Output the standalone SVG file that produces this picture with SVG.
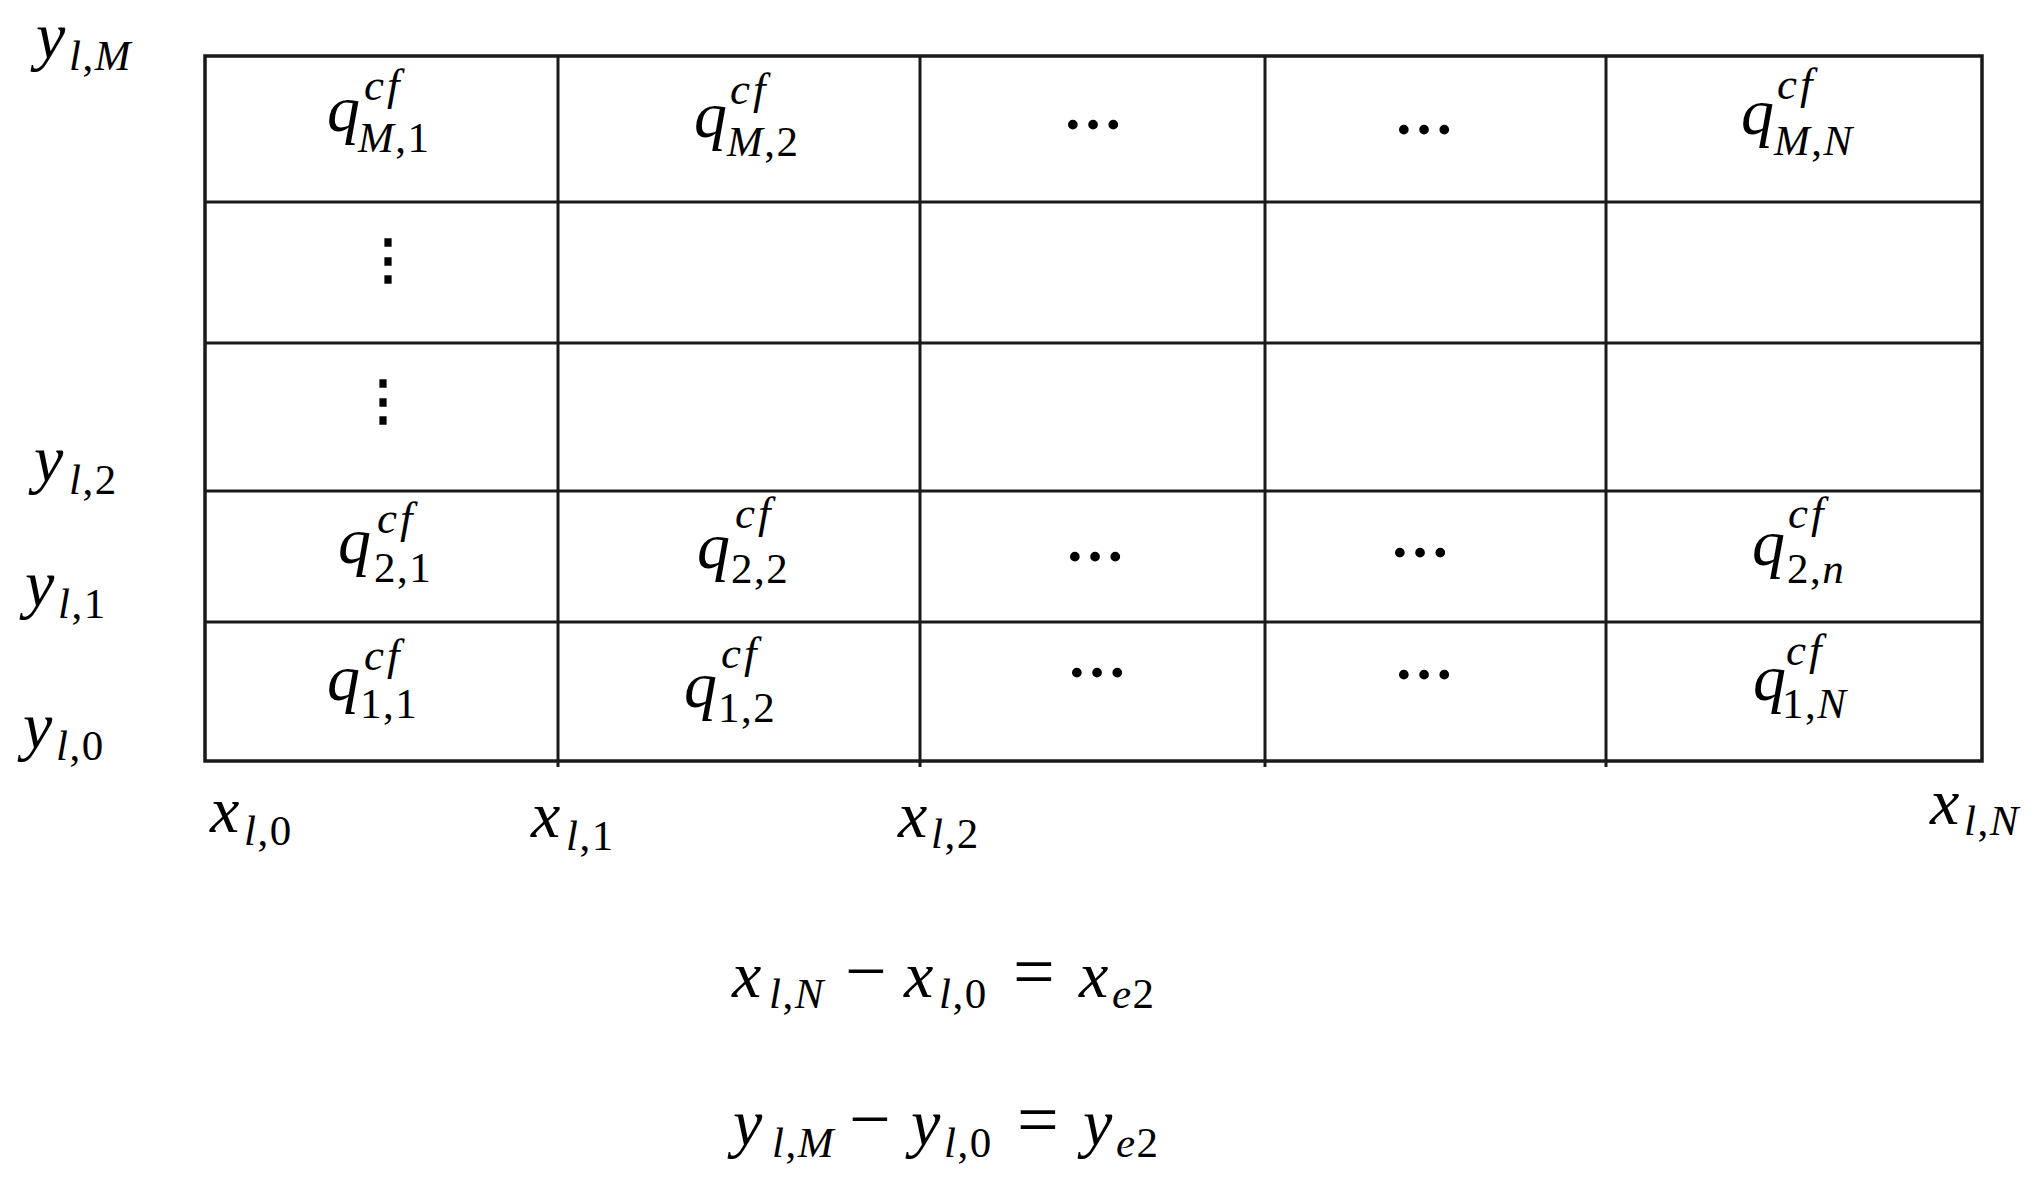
<svg xmlns="http://www.w3.org/2000/svg" width="2044" height="1184" viewBox="0 0 2044 1184">
<style>
.t{font-family:"Liberation Serif","DejaVu Serif",serif;fill:#000}
.i{font-style:italic}
.b{font-size:66px}
.s{font-size:43px;letter-spacing:1.5px}
.p{font-size:45px;letter-spacing:3px}
.o{font-size:74px}
.d{font-family:"Liberation Serif","DejaVu Serif",serif;font-size:60px;font-weight:bold;fill:#000;text-anchor:middle}
.v{font-family:"DejaVu Serif",serif;font-size:54px;font-weight:bold;fill:#000;text-anchor:middle}
.ln{stroke:#1a1a1a;stroke-width:3;fill:none}
</style>
<rect width="2044" height="1184" fill="#fff"/>
<g id="grid">
<rect class="ln" x="205" y="56" width="1777" height="705" style="stroke-width:3.5"/>
<path class="ln" d="M205 202H1982M205 343H1982M205 491H1982M205 622H1982"/>
<path class="ln" d="M558 56V767M920 56V767M1265 56V767M1606 56V767"/>
</g>
<g id="y-labels">
<g id="y_lM"><text class="t"><tspan class="b i" x="36" y="58">y</tspan><tspan class="s i" x="69" y="70">l</tspan><tspan class="s">,</tspan><tspan class="s i">M</tspan></text></g>
<g id="y_l2"><text class="t"><tspan class="b i" x="34" y="481">y</tspan><tspan class="s i" x="69" y="494">l</tspan><tspan class="s">,2</tspan></text></g>
<g id="y_l1"><text class="t"><tspan class="b i" x="25" y="606">y</tspan><tspan class="s i" x="58" y="618">l</tspan><tspan class="s">,1</tspan></text></g>
<g id="y_l0"><text class="t"><tspan class="b i" x="23" y="748">y</tspan><tspan class="s i" x="56" y="760">l</tspan><tspan class="s">,0</tspan></text></g>
</g>
<g id="x-labels">
<g id="x_l0"><text class="t"><tspan class="b i" x="210" y="832">x</tspan><tspan class="s i" x="244" y="845">l</tspan><tspan class="s">,0</tspan></text></g>
<g id="x_l1"><text class="t"><tspan class="b i" x="531" y="837">x</tspan><tspan class="s i" x="566" y="850">l</tspan><tspan class="s">,1</tspan></text></g>
<g id="x_l2"><text class="t"><tspan class="b i" x="898" y="837">x</tspan><tspan class="s i" x="931" y="848">l</tspan><tspan class="s">,2</tspan></text></g>
<g id="x_lN"><text class="t"><tspan class="b i" x="1930" y="824">x</tspan><tspan class="s i" x="1964" y="835">l</tspan><tspan class="s">,</tspan><tspan class="s i">N</tspan></text></g>
</g>
<g id="cells">
<g id="q_M1"><text class="t"><tspan class="b i" x="327" y="131">q</tspan><tspan class="p i" x="364" y="100">cf</tspan><tspan class="s i" x="358" y="152">M</tspan><tspan class="s">,1</tspan></text></g>
<g id="q_M2"><text class="t"><tspan class="b i" x="694" y="137">q</tspan><tspan class="p i" x="730" y="104">cf</tspan><tspan class="s i" x="727" y="156">M</tspan><tspan class="s">,2</tspan></text></g>
<g id="dots_M3"><text class="d" x="1093" y="129">…</text></g>
<g id="dots_M4"><text class="d" x="1424" y="134">…</text></g>
<g id="q_MN"><text class="t"><tspan class="b i" x="1741" y="134">q</tspan><tspan class="p i" x="1777" y="99">cf</tspan><tspan class="s i" x="1774" y="155">M</tspan><tspan class="s">,</tspan><tspan class="s i">N</tspan></text></g>
<g id="vdots_1"><text class="v" x="388" y="278">⋮</text></g>
<g id="vdots_2"><text class="v" x="383" y="419">⋮</text></g>
<g id="q_21"><text class="t"><tspan class="b i" x="338" y="563">q</tspan><tspan class="p i" x="377" y="533">cf</tspan><tspan class="s" x="374" y="582">2,1</tspan></text></g>
<g id="q_22"><text class="t"><tspan class="b i" x="697" y="568">q</tspan><tspan class="p i" x="735" y="528">cf</tspan><tspan class="s" x="731" y="583">2,2</tspan></text></g>
<g id="dots_23"><text class="d" x="1095" y="561">…</text></g>
<g id="dots_24"><text class="d" x="1420" y="557">…</text></g>
<g id="q_2n"><text class="t"><tspan class="b i" x="1752" y="565">q</tspan><tspan class="p i" x="1788" y="528">cf</tspan><tspan class="s" x="1787" y="583">2,</tspan><tspan class="s i">n</tspan></text></g>
<g id="q_11"><text class="t"><tspan class="b i" x="327" y="700">q</tspan><tspan class="p i" x="364" y="670">cf</tspan><tspan class="s" x="360" y="718">1,1</tspan></text></g>
<g id="q_12"><text class="t"><tspan class="b i" x="684" y="707">q</tspan><tspan class="p i" x="721" y="668">cf</tspan><tspan class="s" x="718" y="722">1,2</tspan></text></g>
<g id="dots_13"><text class="d" x="1097" y="677">…</text></g>
<g id="dots_14"><text class="d" x="1424" y="679">…</text></g>
<g id="q_1N"><text class="t"><tspan class="b i" x="1753" y="700">q</tspan><tspan class="p i" x="1786" y="665">cf</tspan><tspan class="s" x="1782" y="718">1,</tspan><tspan class="s i">N</tspan></text></g>
</g>
<g id="equations">
<g id="eq_x"><text class="t"><tspan class="b i" x="732" y="997">x</tspan><tspan class="s i" x="769" y="1008">l</tspan><tspan class="s">,</tspan><tspan class="s i">N</tspan><tspan class="o" x="845" y="996">−</tspan><tspan class="b i" x="904" y="997">x</tspan><tspan class="s i" x="939" y="1008">l</tspan><tspan class="s">,0</tspan><tspan class="o" x="1013" y="996">=</tspan><tspan class="b i" x="1079" y="997">x</tspan><tspan class="s i" x="1112" y="1008">e</tspan><tspan class="s">2</tspan></text></g>
<g id="eq_y"><text class="t"><tspan class="b i" x="733" y="1145">y</tspan><tspan class="s i" x="772" y="1157">l</tspan><tspan class="s">,</tspan><tspan class="s i">M</tspan><tspan class="o" x="849" y="1144">−</tspan><tspan class="b i" x="911" y="1145">y</tspan><tspan class="s i" x="944" y="1157">l</tspan><tspan class="s">,0</tspan><tspan class="o" x="1017" y="1144">=</tspan><tspan class="b i" x="1083" y="1145">y</tspan><tspan class="s i" x="1116" y="1157">e</tspan><tspan class="s">2</tspan></text></g>
</g>
</svg>
